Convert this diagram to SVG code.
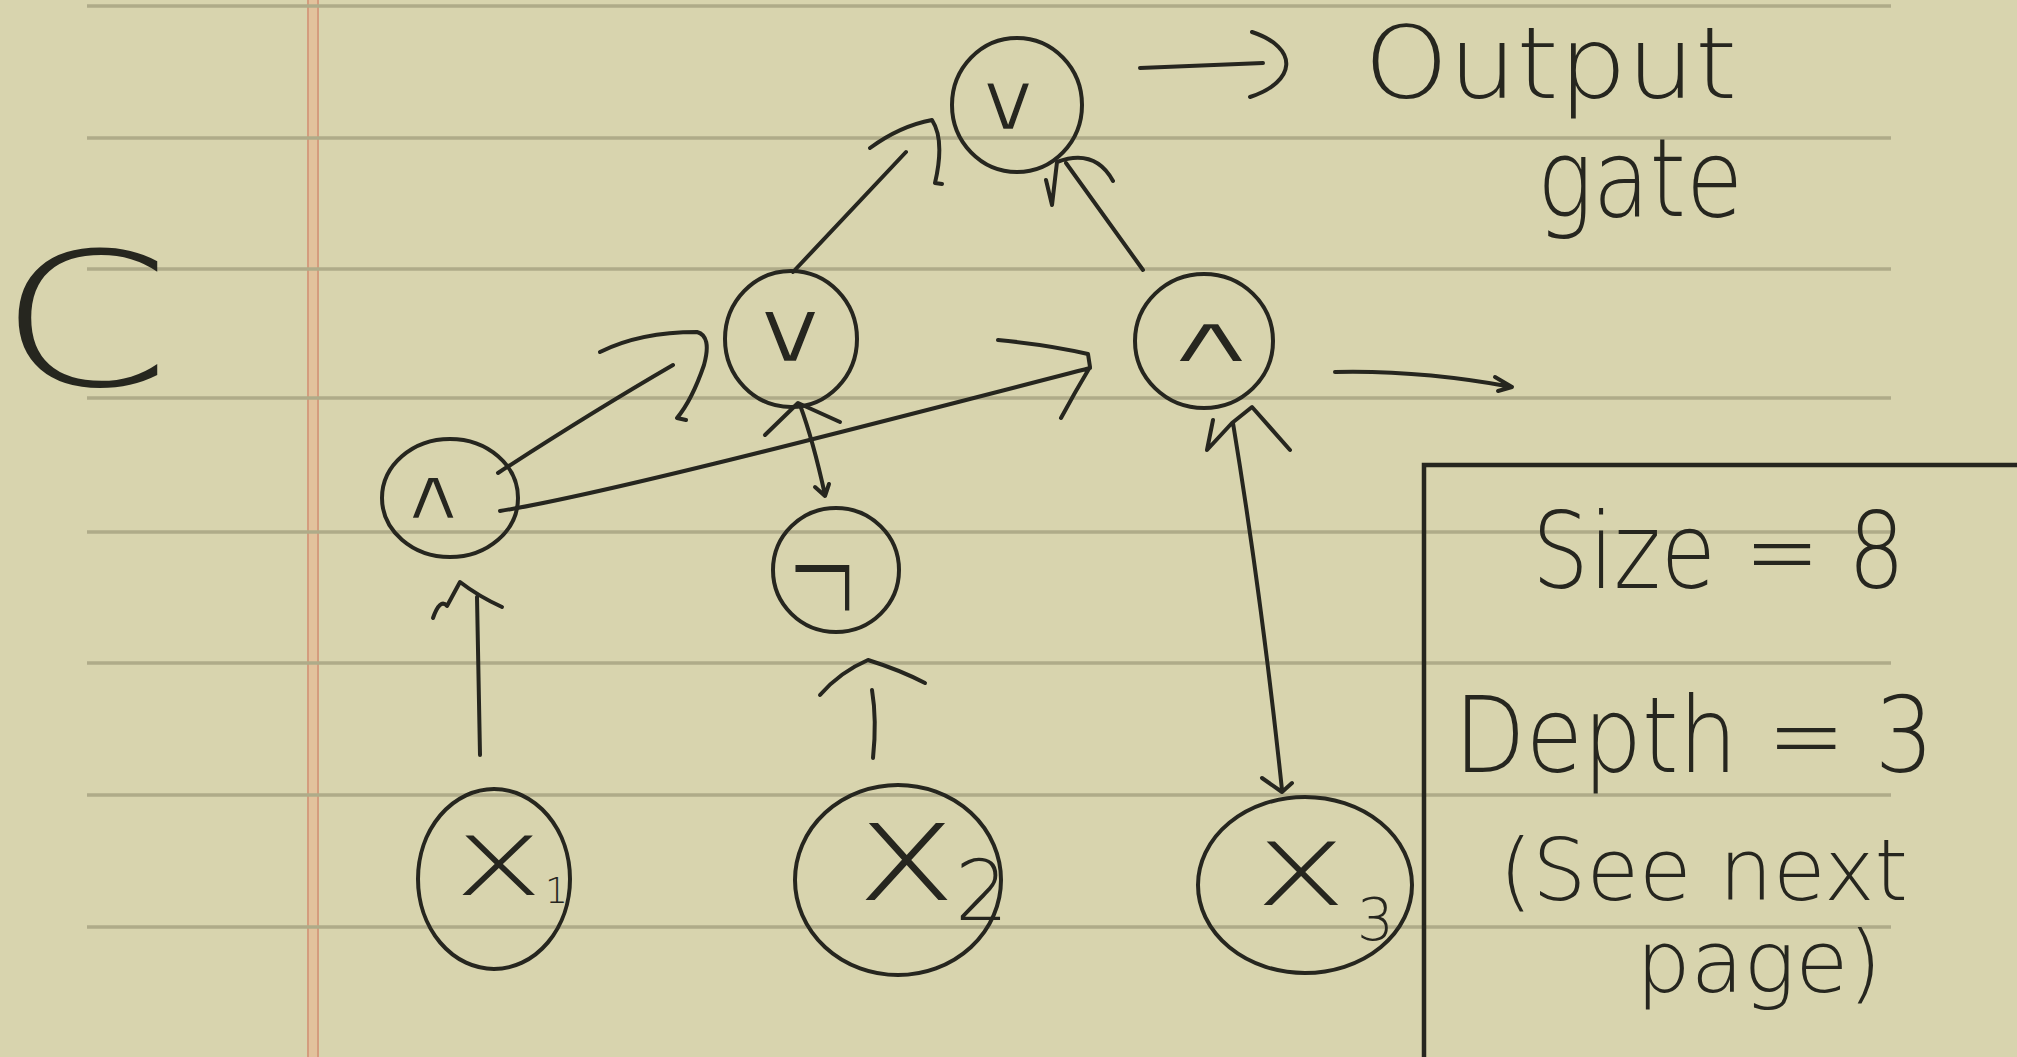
<svg xmlns="http://www.w3.org/2000/svg" width="2017" height="1057" viewBox="0 0 2017 1057">
<style>
.ink{fill:none;stroke:#26261f;stroke-width:4;stroke-linecap:round;stroke-linejoin:round}
.rule{stroke:#afab89;stroke-width:3.5}
.hand{font-family:"DejaVu Sans","Liberation Sans",sans-serif;font-weight:200;fill:#26261f}
.sym{font-family:"DejaVu Sans","Liberation Sans",sans-serif;font-weight:normal;fill:#26261f;stroke:#d8d4ae;stroke-width:3;text-anchor:middle}
</style>
<rect width="2017" height="1057" fill="#d8d4ae"/>
<g id="paper">
<rect x="307" y="0" width="12" height="1057" fill="#e2c29c"/>
<line x1="308" y1="0" x2="308" y2="1057" stroke="#d49c7e" stroke-width="2"/>
<line x1="318" y1="0" x2="318" y2="1057" stroke="#d49c7e" stroke-width="2"/>
<g class="rule">
<line x1="87" y1="6" x2="1891" y2="6"/>
<line x1="87" y1="138" x2="1891" y2="138"/>
<line x1="87" y1="269" x2="1891" y2="269"/>
<line x1="87" y1="398" x2="1891" y2="398"/>
<line x1="87" y1="532" x2="1891" y2="532"/>
<line x1="87" y1="663" x2="1891" y2="663"/>
<line x1="87" y1="795" x2="1891" y2="795"/>
<line x1="87" y1="927" x2="1891" y2="927"/>
</g>
</g>
<text id="label-C" class="hand" transform="translate(-2,385) scale(1.33,1)" font-size="186">C</text>
<g id="connectors" class="ink">
<path d="M1140,68 L1263,63 M1252,32 C1300,48 1296,82 1250,97"/>
<path d="M793,272 L906,152 M870,148 Q900,126 932,120 Q945,140 935,183 L942,184"/>
<path d="M1143,270 L1066,163 M1046,180 L1052,205 L1057,162 Q1095,148 1113,181"/>
<path d="M498,473 Q592,412 673,365 M600,352 Q640,332 697,332 Q712,336 704,365 Q692,400 677,418 L686,420"/>
<path d="M500,511 C600,495 850,430 1090,368 M998,340 Q1050,345 1088,354 L1090,367 Q1075,392 1061,418"/>
<path d="M800,405 Q813,440 825,495 M765,435 L798,403 L840,422 M815,487 L825,496 L829,484"/>
<path d="M480,755 L477,597 M433,618 Q440,598 447,606 L460,582 Q478,596 502,607"/>
<path d="M872,690 Q877,720 873,758 M820,695 Q840,672 868,660 Q900,670 925,683"/>
<path d="M1233,423 Q1262,600 1282,790 M1213,420 L1207,450 L1232,423 L1252,407 L1290,450 M1262,778 L1282,792 L1292,783"/>
<path d="M1335,372 Q1420,370 1512,387 M1495,377 L1512,387 L1498,391"/>
</g>
<g id="node-out"><ellipse class="ink" cx="1017" cy="105" rx="65" ry="67"/><text class="sym" transform="translate(1008,130) scale(1.05,0.9)" font-size="92">∨</text></g>
<g id="node-or"><ellipse class="ink" cx="791" cy="339" rx="66" ry="68"/><text class="sym" transform="translate(790,362) scale(1.1,0.85)" font-size="104">∨</text></g>
<g id="node-and2"><ellipse class="ink" cx="1204" cy="341" rx="69" ry="67"/><text class="sym" transform="translate(1211,362) scale(1.5,0.7)" font-size="96">∧</text></g>
<g id="node-and1"><ellipse class="ink" cx="450" cy="498" rx="68" ry="59"/><text class="sym" transform="translate(433,519) scale(1.1,0.85)" font-size="86">∧</text></g>
<g id="node-not"><ellipse class="ink" cx="836" cy="570" rx="63" ry="62"/><text class="hand" transform="translate(823,636) scale(1,2)" text-anchor="middle" font-size="88">¬</text></g>
<g id="node-x1"><ellipse class="ink" cx="494" cy="879" rx="76" ry="90"/>
<text class="hand" transform="translate(454,895) scale(1.4,1)" font-size="108">x</text>
<text class="hand" x="545" y="903" font-size="36">1</text></g>
<g id="node-x2"><ellipse class="ink" cx="898" cy="880" rx="103" ry="95"/>
<text class="hand" transform="translate(856,900) scale(1.22,1)" font-size="140">x</text>
<text class="hand" x="955" y="920" font-size="84">2</text></g>
<g id="node-x3"><ellipse class="ink" cx="1305" cy="885" rx="107" ry="88"/>
<text class="hand" transform="translate(1255,905) scale(1.35,1)" font-size="115">x</text>
<text class="hand" x="1357" y="940" font-size="58">3</text></g>
<g id="label-output">
<text class="hand" x="1364" y="98" font-size="100" textLength="373" lengthAdjust="spacingAndGlyphs">Output</text>
<text class="hand" x="1537" y="216" font-size="108" textLength="206" lengthAdjust="spacingAndGlyphs">gate</text>
</g>
<g id="info-box">
<rect x="1424" y="465" width="700" height="700" fill="none" stroke="#26261f" stroke-width="4.5"/>
<text class="hand" x="1532" y="588" font-size="106" textLength="373" lengthAdjust="spacingAndGlyphs">Size = 8</text>
<text class="hand" x="1454" y="772" font-size="106" textLength="480" lengthAdjust="spacingAndGlyphs">Depth = 3</text>
<text class="hand" x="1499" y="900" font-size="86" textLength="409" lengthAdjust="spacingAndGlyphs">(See next</text>
<text class="hand" x="1636" y="992" font-size="86" textLength="246" lengthAdjust="spacingAndGlyphs">page)</text>
</g>
</svg>
